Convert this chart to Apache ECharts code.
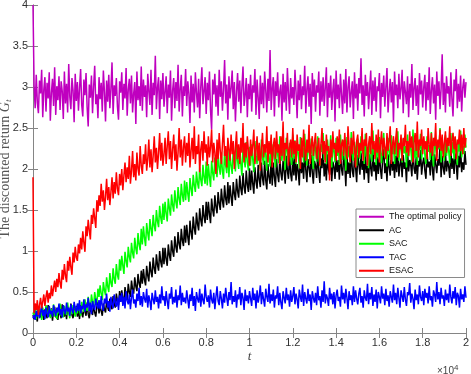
<!DOCTYPE html>
<html>
<head>
<meta charset="utf-8">
<script src="https://cdn.jsdelivr.net/npm/echarts@6/dist/echarts.min.js"></script>
<style>
  html, body { margin: 0; padding: 0; background: #fff; }
  #chart { width: 471px; height: 374px; }
</style>
</head>
<body>
<div id="chart"></div>
<script>
  // one sample every 50 steps, t = 0 .. 20000 (each row below = 1000 steps)
  const tStep = 50;
  const seriesNames = ['The optimal policy', 'AC', 'SAC', 'TAC', 'ESAC'];
  const seriesColors = ['#bf00bf', '#000000', '#00ff00', '#0000ff', '#ff0000'];

  const optimal = [4.00,
    3.02,2.74,3.15,2.81,2.68,3.08,2.92,3.21,2.63,2.97,3.12,2.70,3.05,2.86,3.18,2.59,2.93,3.10,2.77,3.24,
    2.66,3.01,2.84,3.13,2.72,3.07,2.95,2.61,3.19,2.80,3.04,2.69,3.28,2.88,2.73,3.11,2.96,2.57,3.16,2.83,
    3.06,2.71,2.99,3.22,2.78,2.64,3.09,2.90,3.17,2.75,2.52,3.03,2.87,3.14,2.68,3.00,3.26,2.79,2.91,2.62,
    3.12,2.85,3.05,2.70,3.20,2.94,2.58,3.08,2.82,3.15,2.74,2.98,3.30,2.67,3.02,2.89,3.11,2.76,2.60,3.07,
    2.93,3.18,2.72,3.04,2.86,3.23,2.65,2.97,3.10,2.80,3.14,2.69,2.92,3.06,2.55,3.19,2.84,3.01,2.77,3.25,
    2.71,3.09,2.88,3.02,2.63,3.16,2.95,2.78,3.21,2.66,3.05,2.90,3.38,2.73,2.99,3.12,2.61,3.08,2.85,3.17,
    2.76,2.94,3.13,2.68,3.03,2.87,3.20,2.59,2.96,3.11,2.74,3.06,2.83,3.27,2.70,2.98,3.15,2.64,3.01,2.89,
    3.22,2.77,3.07,2.92,2.56,3.14,2.81,3.04,2.69,3.18,2.93,2.75,3.10,2.62,3.00,3.24,2.79,2.95,3.12,2.67,
    3.05,2.84,3.19,2.72,2.48,3.09,2.91,3.16,2.76,3.02,2.65,3.21,2.88,3.07,2.71,2.97,3.33,2.80,3.03,2.60,
    3.13,2.86,2.99,3.20,2.73,3.06,2.58,2.94,3.17,2.82,3.08,2.68,3.00,3.25,2.77,2.90,3.11,2.63,3.04,2.85,
    3.15,2.70,3.02,2.93,3.22,2.66,3.09,2.87,2.61,3.14,2.79,3.05,2.74,3.19,2.96,2.69,3.10,2.83,3.45,2.72,
    2.98,3.12,2.64,3.07,2.89,3.18,2.75,2.95,3.03,2.59,3.16,2.81,3.06,2.71,3.23,2.92,2.67,3.11,2.86,3.00,
    2.78,3.21,2.94,2.62,3.08,2.84,3.15,2.73,3.01,2.90,3.26,2.68,2.97,3.13,2.76,3.04,2.55,3.17,2.88,3.09,
    2.70,3.02,2.93,3.19,2.65,3.07,2.82,3.12,2.77,2.99,3.24,2.63,3.05,2.87,3.14,2.72,2.96,3.10,2.58,3.20,
    2.85,3.03,2.74,3.16,2.91,2.67,3.09,2.80,3.22,2.69,3.00,3.13,2.75,2.94,3.07,2.61,3.18,2.86,3.04,2.71,
    3.11,2.92,3.35,2.78,3.02,2.64,3.15,2.89,3.06,2.73,2.97,3.20,2.66,3.08,2.83,3.12,2.70,3.01,2.95,3.17,
    2.62,3.05,2.88,3.14,2.76,3.00,3.23,2.69,2.93,3.10,2.81,3.06,2.57,3.19,2.90,3.03,2.74,3.16,2.85,2.98,
    3.21,2.68,3.07,2.94,2.79,3.13,2.63,3.04,2.87,3.28,2.72,2.99,3.11,2.77,3.02,2.66,3.17,2.91,3.08,2.75,
    3.00,3.15,2.71,3.06,2.84,3.24,2.67,2.96,3.12,2.80,3.03,2.60,3.19,2.89,3.07,2.73,2.98,3.40,2.78,3.05,
    2.69,3.13,2.92,3.01,2.76,3.18,2.86,2.64,3.09,2.95,3.22,2.74,3.04,2.82,3.14,2.70,2.99,3.10,2.87,3.06];

  const ac = [0.22,
    0.17,0.28,0.21,0.14,0.31,0.24,0.19,0.33,0.22,0.16,0.29,0.25,0.18,0.34,0.23,0.20,0.30,0.15,0.27,0.32,
    0.19,0.26,0.16,0.31,0.23,0.18,0.35,0.24,0.20,0.29,0.17,0.32,0.26,0.21,0.36,0.22,0.18,0.30,0.25,0.33,
    0.20,0.28,0.17,0.34,0.24,0.19,0.31,0.26,0.21,0.37,0.23,0.18,0.30,0.27,0.22,0.35,0.25,0.20,0.32,0.38,
    0.24,0.33,0.27,0.21,0.36,0.29,0.25,0.39,0.31,0.27,0.42,0.33,0.29,0.45,0.36,0.31,0.48,0.39,0.34,0.51,
    0.38,0.52,0.42,0.36,0.56,0.46,0.40,0.60,0.50,0.44,0.64,0.53,0.48,0.68,0.57,0.51,0.72,0.61,0.55,0.76,
    0.60,0.78,0.65,0.58,0.82,0.70,0.63,0.87,0.75,0.68,0.92,0.79,0.72,0.96,0.83,0.76,1.00,0.87,0.80,1.04,
    0.84,1.04,0.90,0.82,1.08,0.95,0.88,1.13,1.00,0.93,1.18,1.05,0.98,1.23,1.09,1.02,1.27,1.13,1.06,1.31,
    1.10,1.32,1.17,1.07,1.37,1.23,1.14,1.42,1.28,1.20,1.47,1.33,1.25,1.52,1.38,1.30,1.56,1.42,1.34,1.60,
    1.38,1.60,1.45,1.34,1.64,1.50,1.42,1.68,1.54,1.46,1.72,1.58,1.50,1.76,1.61,1.53,1.80,1.64,1.56,1.84,
    1.58,1.80,1.66,1.55,1.84,1.70,1.62,1.88,1.73,1.65,1.92,1.76,1.68,1.95,1.78,1.70,1.98,1.81,1.72,2.01,
    1.74,1.98,1.82,1.70,2.02,1.85,1.76,2.05,1.87,1.78,2.08,1.89,1.80,2.10,1.86,1.75,2.06,1.90,1.82,2.12,
    1.80,2.08,1.90,1.78,2.12,1.93,1.84,2.15,1.95,1.86,2.10,1.97,1.82,2.16,1.98,1.88,2.18,1.94,1.85,2.14,
    1.92,2.16,1.86,2.06,1.98,1.80,2.19,1.95,2.08,1.88,2.22,1.99,1.84,2.12,2.02,1.90,2.17,1.96,1.82,2.10,
    2.04,1.89,2.20,1.97,1.83,2.13,2.01,2.24,1.91,2.07,1.86,2.18,1.99,1.93,2.21,1.85,2.09,2.03,1.88,2.15,
    1.96,2.11,1.87,2.23,2.00,1.92,2.16,2.05,1.79,2.19,1.94,2.08,1.89,2.25,1.98,1.90,2.14,2.02,1.84,2.17,
    2.06,1.93,2.20,1.99,2.10,1.87,2.22,1.95,2.04,1.83,2.18,2.01,1.91,2.26,1.97,2.08,1.86,2.15,1.94,2.19,
    2.00,1.88,2.12,2.24,1.95,2.07,1.85,2.18,2.02,1.92,2.21,1.98,2.09,1.89,2.16,1.96,2.27,1.91,2.05,2.13,
    1.90,2.17,2.00,2.08,1.84,2.22,1.97,2.11,2.04,1.91,2.28,2.01,1.94,2.15,1.87,2.10,2.03,2.23,1.93,2.07,
    2.14,1.98,1.88,2.20,2.02,2.09,1.92,2.25,1.99,1.86,2.18,2.06,1.95,2.12,2.04,2.29,1.90,2.16,2.01,1.93,
    2.21,1.97,2.10,2.03,1.89,2.24,2.00,2.13,1.94,2.19,2.06,1.87,2.16,2.02,2.26,1.96,2.08,1.99,2.22,2.05];

  const sac = [0.25,
    0.20,0.30,0.17,0.27,0.33,0.22,0.28,0.16,0.31,0.24,0.19,0.34,0.26,0.21,0.32,0.18,0.29,0.23,0.35,0.20,
    0.27,0.17,0.31,0.24,0.36,0.21,0.29,0.19,0.33,0.26,0.22,0.37,0.25,0.18,0.30,0.23,0.34,0.27,0.20,0.32,
    0.24,0.36,0.28,0.21,0.38,0.30,0.26,0.41,0.33,0.27,0.44,0.35,0.29,0.47,0.38,0.32,0.50,0.41,0.36,0.54,
    0.44,0.58,0.48,0.40,0.62,0.52,0.46,0.68,0.57,0.50,0.73,0.61,0.56,0.79,0.66,0.60,0.84,0.71,0.65,0.90,
    0.76,0.94,0.82,0.72,0.99,0.88,0.80,1.05,0.93,0.86,1.10,0.98,0.91,1.16,1.03,0.96,1.22,1.08,1.01,1.27,
    1.08,1.30,1.16,1.06,1.34,1.22,1.13,1.39,1.27,1.18,1.44,1.31,1.24,1.50,1.36,1.29,1.55,1.41,1.33,1.58,
    1.38,1.60,1.46,1.36,1.64,1.52,1.43,1.69,1.56,1.48,1.74,1.60,1.52,1.78,1.64,1.56,1.82,1.68,1.60,1.86,
    1.62,1.84,1.70,1.60,1.89,1.76,1.67,1.93,1.80,1.72,1.97,1.83,1.76,2.02,1.87,1.79,2.05,1.90,1.82,2.09,
    1.80,2.06,1.90,1.78,2.10,1.95,1.86,2.14,1.99,1.90,2.18,2.02,1.93,2.20,1.97,1.88,2.22,2.04,1.95,2.26,
    1.90,2.18,2.04,1.94,2.24,2.08,1.97,2.28,2.10,2.00,2.26,2.06,1.92,2.30,2.12,2.02,2.33,2.08,1.98,2.27,
    2.04,2.30,2.12,1.96,2.34,2.16,2.06,2.28,2.10,2.00,2.36,2.14,2.05,2.30,2.18,1.98,2.32,2.11,2.03,2.38,
    2.08,2.30,2.14,2.02,2.36,2.18,2.07,2.40,2.20,2.10,2.34,2.16,1.99,2.38,2.22,2.09,2.32,2.17,2.05,2.42,
    2.12,2.35,2.06,2.28,2.20,2.01,2.39,2.15,2.26,2.08,2.43,2.18,2.04,2.31,2.22,2.10,2.37,2.14,2.00,2.33,
    2.24,2.09,2.40,2.17,2.03,2.30,2.21,2.44,2.11,2.27,2.06,2.36,2.19,2.13,2.41,2.02,2.29,2.23,2.08,2.38,
    2.16,2.32,2.05,2.42,2.20,2.11,2.35,2.25,1.98,2.39,2.14,2.28,2.07,2.45,2.18,2.10,2.33,2.22,2.04,2.37,
    2.26,2.12,2.40,2.19,2.30,2.06,2.43,2.15,2.24,2.01,2.36,2.21,2.09,2.47,2.17,2.28,2.05,2.34,2.13,2.39,
    2.20,2.07,2.31,2.44,2.14,2.27,2.03,2.38,2.22,2.11,2.41,2.18,2.29,2.06,2.35,2.16,2.46,2.10,2.25,2.33,
    2.08,2.37,2.19,2.28,2.02,2.42,2.15,2.32,2.24,2.09,2.48,2.20,2.13,2.36,2.05,2.30,2.23,2.43,2.12,2.27,
    2.34,2.17,2.06,2.40,2.21,2.29,2.11,2.45,2.18,2.03,2.38,2.26,2.14,2.32,2.24,2.50,2.08,2.35,2.20,2.10,
    2.41,2.16,2.30,2.22,2.07,2.44,2.19,2.33,2.12,2.39,2.25,2.05,2.36,2.21,2.47,2.14,2.28,2.18,2.42,2.26];

  const tac = [0.18,
    0.22,0.16,0.27,0.20,0.30,0.18,0.25,0.32,0.21,0.28,0.17,0.31,0.24,0.19,0.33,0.23,0.27,0.20,0.34,0.26,
    0.21,0.31,0.25,0.36,0.22,0.29,0.19,0.34,0.27,0.23,0.37,0.26,0.31,0.21,0.35,0.28,0.24,0.38,0.30,0.25,
    0.36,0.27,0.40,0.24,0.33,0.29,0.41,0.26,0.35,0.31,0.43,0.27,0.37,0.23,0.39,0.32,0.28,0.42,0.34,0.30,
    0.40,0.29,0.45,0.33,0.27,0.42,0.36,0.48,0.31,0.39,0.26,0.44,0.35,0.30,0.47,0.37,0.32,0.43,0.28,0.46,
    0.38,0.49,0.33,0.44,0.30,0.51,0.40,0.35,0.47,0.29,0.43,0.53,0.36,0.41,0.31,0.48,0.39,0.55,0.34,0.45,
    0.32,0.50,0.42,0.37,0.54,0.31,0.46,0.39,0.28,0.49,0.41,0.35,0.52,0.38,0.44,0.30,0.47,0.36,0.57,0.40,
    0.45,0.33,0.51,0.39,0.29,0.48,0.42,0.56,0.35,0.44,0.37,0.53,0.31,0.46,0.40,0.58,0.34,0.49,0.38,0.43,
    0.36,0.52,0.41,0.30,0.47,0.39,0.55,0.33,0.45,0.27,0.50,0.42,0.37,0.54,0.32,0.48,0.40,0.35,0.59,0.44,
    0.38,0.46,0.31,0.53,0.41,0.36,0.49,0.29,0.44,0.57,0.39,0.34,0.51,0.42,0.30,0.48,0.37,0.55,0.43,0.33,
    0.50,0.40,0.62,0.35,0.45,0.38,0.52,0.31,0.47,0.41,0.56,0.34,0.49,0.43,0.28,0.53,0.39,0.46,0.36,0.51,
    0.42,0.33,0.55,0.40,0.48,0.30,0.52,0.37,0.45,0.58,0.35,0.50,0.41,0.32,0.54,0.44,0.38,0.60,0.36,0.47,
    0.39,0.53,0.31,0.46,0.42,0.57,0.34,0.49,0.37,0.29,0.51,0.43,0.36,0.55,0.40,0.47,0.32,0.52,0.38,0.45,
    0.56,0.35,0.48,0.41,0.30,0.53,0.44,0.38,0.59,0.33,0.50,0.42,0.36,0.54,0.39,0.47,0.28,0.51,0.43,0.37,
    0.49,0.34,0.57,0.40,0.45,0.31,0.52,0.38,0.63,0.36,0.47,0.42,0.33,0.55,0.41,0.48,0.35,0.50,0.30,0.46,
    0.53,0.39,0.44,0.32,0.58,0.41,0.49,0.36,0.54,0.43,0.29,0.51,0.40,0.46,0.34,0.57,0.38,0.52,0.42,0.35,
    0.48,0.55,0.37,0.45,0.31,0.52,0.43,0.39,0.60,0.35,0.49,0.41,0.56,0.33,0.47,0.38,0.53,0.30,0.50,0.44,
    0.36,0.57,0.42,0.48,0.34,0.54,0.39,0.46,0.32,0.51,0.44,0.37,0.59,0.40,0.49,0.35,0.55,0.43,0.31,0.52,
    0.45,0.38,0.56,0.41,0.33,0.50,0.46,0.61,0.37,0.48,0.42,0.29,0.53,0.40,0.47,0.35,0.58,0.44,0.39,0.51,
    0.34,0.54,0.43,0.49,0.36,0.57,0.40,0.45,0.32,0.52,0.47,0.38,0.62,0.41,0.50,0.35,0.55,0.42,0.46,0.33,
    0.53,0.40,0.48,0.37,0.59,0.44,0.36,0.51,0.42,0.56,0.34,0.49,0.45,0.31,0.54,0.41,0.47,0.38,0.57,0.43];

  const esac = [1.90,
    0.24,0.36,0.28,0.40,0.22,0.34,0.43,0.30,0.38,0.47,0.33,0.44,0.52,0.37,0.49,0.42,0.58,0.45,0.55,0.64,
    0.50,0.66,0.56,0.73,0.61,0.54,0.77,0.65,0.84,0.70,0.62,0.88,0.76,0.93,0.80,0.71,0.98,0.86,1.05,0.92,
    0.88,1.08,0.97,1.16,1.02,1.24,1.10,0.99,1.30,1.18,1.38,1.25,1.14,1.44,1.33,1.52,1.40,1.28,1.62,1.48,
    1.68,1.55,1.82,1.60,1.74,1.50,1.66,1.88,1.62,1.78,1.56,1.72,1.90,1.64,1.84,1.70,1.96,1.76,1.68,1.94,
    1.80,2.00,1.74,1.92,2.08,1.84,2.02,1.88,2.16,1.82,1.98,2.22,1.90,2.06,1.86,2.20,2.00,1.92,2.28,2.04,
    1.94,2.18,2.06,2.30,1.98,2.12,2.36,2.02,2.24,1.96,2.16,2.40,2.08,2.26,2.00,2.20,2.44,2.10,2.32,2.04,
    2.18,2.38,2.06,2.28,2.46,2.12,2.34,2.00,2.24,2.42,2.10,2.30,1.98,2.20,2.50,2.14,2.36,2.04,2.26,2.40,
    2.08,2.32,2.16,2.44,2.02,2.22,2.38,2.12,2.52,2.06,2.28,2.18,2.42,1.96,2.24,2.34,2.10,2.46,2.20,2.30,
    2.04,2.40,2.14,2.26,2.48,2.08,2.32,2.20,1.94,2.36,2.12,2.44,2.22,2.06,2.30,2.54,2.16,2.28,2.02,2.38,
    2.24,2.10,2.42,2.18,2.34,2.00,2.26,2.46,2.12,2.30,2.06,2.38,2.20,2.56,2.08,2.32,2.14,2.40,2.22,2.04,
    2.36,2.16,2.28,2.48,2.06,2.22,2.40,2.10,2.32,1.98,2.26,2.44,2.14,2.30,2.20,2.52,2.08,2.34,2.18,2.42,
    2.02,2.28,2.38,2.12,2.46,2.20,2.30,2.06,2.40,2.16,2.58,2.10,2.32,2.24,2.44,2.04,2.26,2.36,2.14,2.50,
    2.18,2.34,2.08,2.42,2.22,2.30,2.00,2.38,2.14,2.48,2.24,2.10,2.36,2.20,2.54,2.06,2.28,2.40,2.16,2.32,
    2.44,2.12,2.26,2.38,2.04,2.30,2.50,2.18,2.34,2.08,2.42,2.22,2.28,1.86,2.36,2.14,2.46,2.24,2.32,2.10,
    2.40,2.20,2.48,2.06,2.30,2.36,2.16,2.44,2.24,2.12,2.52,2.28,2.08,2.38,2.18,2.46,2.26,2.02,2.34,2.42,
    2.14,2.32,2.22,2.50,2.10,2.36,2.28,2.44,2.04,2.30,2.40,2.18,2.56,2.24,2.34,2.12,2.42,2.20,2.48,2.08,
    2.30,2.46,2.16,2.38,2.26,2.12,2.44,2.22,2.34,2.52,2.06,2.28,2.40,2.18,2.36,2.50,2.14,2.32,2.24,2.42,
    2.10,2.38,2.28,2.54,2.20,2.34,2.16,2.46,2.26,2.40,2.08,2.32,2.44,2.22,2.58,2.14,2.36,2.28,2.48,2.18,
    2.40,2.24,2.34,2.12,2.50,2.30,2.20,2.44,2.16,2.38,2.28,2.56,2.10,2.36,2.26,2.48,2.22,2.42,2.14,2.32,
    2.46,2.20,2.38,2.28,2.52,2.16,2.34,2.44,2.24,2.40,2.12,2.36,2.30,2.48,2.22,2.42,2.18,2.50,2.26,2.38];

  const allValues = [optimal, ac, sac, tac, esac];

  const axisGray = '#858585';
  const labelColor = '#303030';

  const chart = echarts.init(document.getElementById('chart'), null, {renderer: 'canvas'});

  const series = allValues.map((vals, k) => {
    return {
      name: seriesNames[k],
      type: 'line',
      showSymbol: false,
      symbol: 'none',
      animation: false,
      lineStyle: { color: seriesColors[k], width: 1.5 },
      itemStyle: { color: seriesColors[k] },
      data: vals.map((v, i) => [i * tStep, v])
    }
  });

  const option = {
    animation: false,
    backgroundColor: '#fff',
    grid: { left: 33, right: 5, top: 5, bottom: 41, containLabel: false, outerBoundsMode: 'none' },
    legend: {
      data: seriesNames,
      orient: 'vertical',
      left: 356,
      top: 209,
      icon: 'rect',
      itemWidth: 25,
      itemHeight: 2,
      itemGap: 2,
      itemTextGap: 3,
      padding: [2, 3, 1, 3],
      backgroundColor: '#fff',
      borderColor: '#8a8a8a',
      borderWidth: 1,
      borderRadius: 0,
      textStyle: { fontFamily: 'Liberation Sans', fontSize: 9, color: '#111', lineHeight: 11.5 }
    },
    xAxis: [{
      type: 'value',
      min: 0, max: 20000, interval: 2000,
      name: 't',
      nameLocation: 'middle',
      nameGap: 17,
      nameMoveOverlap: false,
      nameTextStyle: { fontFamily: 'Liberation Serif', fontStyle: 'italic', fontSize: 13, color: '#444' },
      axisLine: { show: true, lineStyle: { color: axisGray, width: 1 } },
      axisTick: { show: true, inside: true, length: 5, lineStyle: { color: axisGray } },
      axisLabel: {
        fontFamily: 'Liberation Sans', fontSize: 11, color: labelColor, margin: 4,
        formatter: v => String(parseFloat((v / 10000).toFixed(1)))
      },
      splitLine: { show: false }
    }, {
      type: 'value',
      position: 'top',
      min: 0, max: 20000, interval: 2000,
      axisLine: { show: true, lineStyle: { color: axisGray, width: 1 } },
      axisTick: { show: true, inside: true, length: 5, lineStyle: { color: axisGray } },
      axisLabel: { show: false },
      splitLine: { show: false }
    }],
    yAxis: [{
      type: 'value',
      min: 0, max: 4, interval: 0.5,
      name: '{a|The discounted return }{g|G}{s|t}',
      nameLocation: 'middle',
      nameGap: 20,
      nameRotate: 90,
      nameMoveOverlap: false,
      nameTextStyle: {
        color: '#555',
        rich: {
          a: { fontFamily: 'Liberation Serif', fontSize: 14, color: '#555' },
          g: { fontFamily: 'Liberation Serif', fontStyle: 'italic', fontSize: 14, color: '#555' },
          s: { fontFamily: 'Liberation Serif', fontStyle: 'italic', fontSize: 9, color: '#555', verticalAlign: 'bottom', padding: [6, 0, 0, 0] }
        }
      },
      axisLine: { show: true, lineStyle: { color: axisGray, width: 1 } },
      axisTick: { show: true, inside: true, length: 5, lineStyle: { color: axisGray } },
      axisLabel: { fontFamily: 'Liberation Sans', fontSize: 11, color: labelColor, margin: 5 },
      splitLine: { show: false }
    }, {
      type: 'value',
      position: 'right',
      min: 0, max: 4, interval: 0.5,
      axisLine: { show: true, lineStyle: { color: axisGray, width: 1 } },
      axisTick: { show: true, inside: true, length: 5, lineStyle: { color: axisGray } },
      axisLabel: { show: false },
      splitLine: { show: false }
    }],
    graphic: [{
      type: 'text',
      left: 437,
      top: 364,
      style: {
        text: '{x|×10}{p|4}',
        rich: {
          x: { fontFamily: 'Liberation Sans', fontSize: 10, fill: '#444' },
          p: { fontFamily: 'Liberation Sans', fontSize: 8, fill: '#444', verticalAlign: 'top', padding: [0, 0, 6, 0] }
        }
      }
    }],
    series: series
  };

  chart.setOption(option);
</script>
</body>
</html>
